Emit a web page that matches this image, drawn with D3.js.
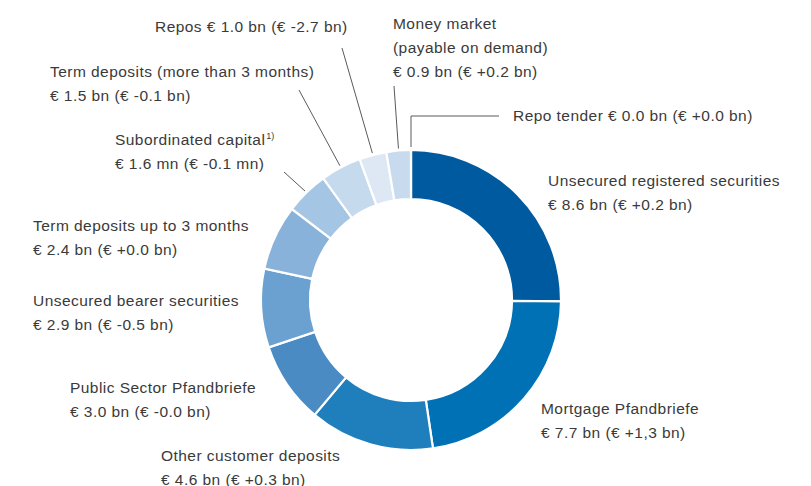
<!DOCTYPE html>
<html>
  <head>
    <meta charset="utf-8">
    <script src="https://d3js.org/d3.v7.min.js"></script>
    <style>
      body { margin: 0px; background: #fff; }
      .label {
        fill: #3a3a3a;
        font-size: 15.5px;
        letter-spacing: 0.45px;
        font-family: "Liberation Sans", Arial, sans-serif;
      }
      .leader {
        stroke: #5a5a5a;
        stroke-width: 1;
        fill: none;
      }
    </style>
  </head>
  <body>
    <svg width="811" height="486"></svg>
    <script>
      // slices, clockwise from 12 o'clock
      const categories = [
        'Unsecured registered securities', 'Mortgage Pfandbriefe', 'Other customer deposits',
        'Public Sector Pfandbriefe', 'Unsecured bearer securities', 'Term deposits up to 3 months',
        'Subordinated capital', 'Term deposits (more than 3 months)', 'Repos',
        'Money market', 'Repo tender'
      ];
      const values = [8.6, 7.7, 4.6, 3.0, 2.9, 2.4, 1.6, 1.5, 1.0, 0.9, 0.0];
      const colors = [
        '#005a9f', '#0071b4', '#1f7fbd', '#4b8bc3', '#6aa1d0', '#89b2da',
        '#a5c5e4', '#c6daee', '#dde8f4', '#c7daee', '#dde8f4'
      ];
      const labelLines = [
        ['Unsecured registered securities', '€ 8.6 bn (€ +0.2 bn)'],
        ['Mortgage Pfandbriefe', '€ 7.7 bn (€ +1,3 bn)'],
        ['Other customer deposits', '€ 4.6 bn (€ +0.3 bn)'],
        ['Public Sector Pfandbriefe', '€ 3.0 bn (€ -0.0 bn)'],
        ['Unsecured bearer securities', '€ 2.9 bn (€ -0.5 bn)'],
        ['Term deposits up to 3 months', '€ 2.4 bn (€ +0.0 bn)'],
        ['Subordinated capital', '€ 1.6 mn (€ -0.1 mn)'],
        ['Term deposits (more than 3 months)', '€ 1.5 bn (€ -0.1 bn)'],
        ['Repos € 1.0 bn (€ -2.7 bn)'],
        ['Money market', '(payable on demand)', '€ 0.9 bn (€ +0.2 bn)'],
        ['Repo tender € 0.0 bn (€ +0.0 bn)']
      ];
      const footnoteMark = { 6: '1)' };
      // label anchor (x, first baseline) and leader end point (null = no leader)
      const labelPos = [
        [548, 186], [541, 414], [161, 461], [70, 393], [33, 306], [33, 231],
        [115, 145], [50, 77], [155, 32], [393, 29], [513, 121]
      ];
      const leaderEnd = [
        null, null, null, null, null, null,
        [284, 172], [299, 90], [342, 48], [394, 86], 'elbow'
      ];

      const cx = 411, cy = 300, outerR = 150, innerR = 101;
      const lineH = 24;

      const svg = d3.select('svg');
      const g = svg.append('g').attr('transform', `translate(${cx},${cy})`);

      const data = categories.map((c, i) => ({ name: c, value: values[i], i }));
      const pie = d3.pie().sort(null).value(d => d.value);
      const arc = d3.arc().innerRadius(innerR).outerRadius(outerR);
      const arcs = pie(data);

      g.selectAll('path.slice').data(arcs)
        .enter().append('path')
          .attr('class', 'slice')
          .attr('d', arc)
          .attr('fill', d => colors[d.data.i])
          .attr('stroke', '#fff')
          .attr('stroke-width', 2.2);

      // leader lines
      const rimR = outerR + 2;
      arcs.forEach(d => {
        const end = leaderEnd[d.data.i];
        if (!end) return;
        const mid = (d.startAngle + d.endAngle) / 2;
        const sx = cx + rimR * Math.sin(mid);
        const sy = cy - rimR * Math.cos(mid);
        if (end === 'elbow') {
          svg.append('path')
            .attr('class', 'leader')
            .attr('d', `M${sx},${sy - 1}V116H499`);
        } else {
          svg.append('line')
            .attr('class', 'leader')
            .attr('x1', sx).attr('y1', sy)
            .attr('x2', end[0]).attr('y2', end[1]);
        }
      });

      // labels
      labelLines.forEach((lines, i) => {
        const t = svg.append('text')
          .attr('class', 'label')
          .attr('x', labelPos[i][0])
          .attr('y', labelPos[i][1]);
        lines.forEach((s, k) => {
          t.append('tspan')
            .attr('x', labelPos[i][0])
            .attr('y', labelPos[i][1] + k * lineH)
            .text(s);
          if (k === 0 && footnoteMark[i]) {
            t.append('tspan')
              .attr('dx', 1)
              .attr('dy', -6)
              .style('font-size', '9px')
              .style('letter-spacing', '0px')
              .text(footnoteMark[i]);
          }
        });
      });
    </script>
  </body>
</html>
